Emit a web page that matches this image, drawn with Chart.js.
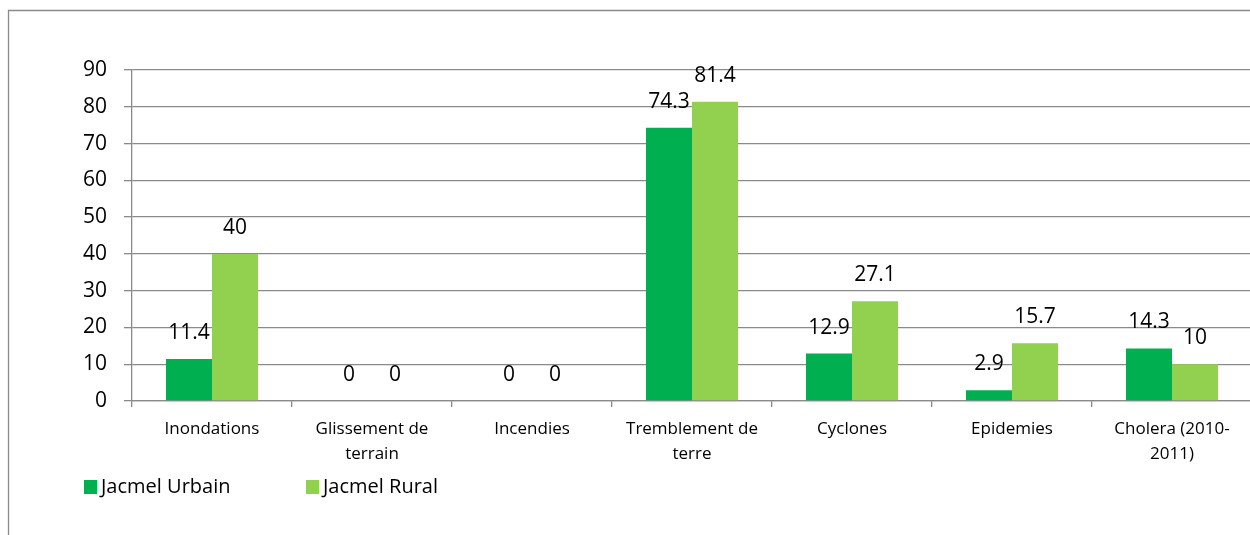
<!DOCTYPE html>
<html>
<head>
<meta charset="utf-8">
<title>Jacmel Urbain / Jacmel Rural</title>
<script src="https://cdn.jsdelivr.net/npm/chart.js@4/dist/chart.umd.min.js"></script>
<style>
  html, body { margin: 0; padding: 0; background: #ffffff; overflow: hidden; }
  #wrap { position: absolute; left: 0; top: 0; width: 1254px; height: 535px; }
</style>
</head>
<body>
<div id="wrap"><canvas id="chart" width="1254" height="535"></canvas></div>
<script>
// Hazard categories (wrapped onto two lines where the label is long)
const categories = [
  ['Inondations'],
  ['Glissement de', 'terrain'],
  ['Incendies'],
  ['Tremblement de', 'terre'],
  ['Cyclones'],
  ['Epidemies'],
  ['Cholera (2010-', '2011)']
];

// Percentages per area
const urbainValues = [11.4, 0, 0, 74.3, 12.9, 2.9, 14.3];
const ruralValues  = [40, 0, 0, 81.4, 27.1, 15.7, 10];

const seriesNames = ['Jacmel Urbain', 'Jacmel Rural'];
const seriesColors = ['#00B050', '#92D050'];

// Value axis
const yMin = 0;
const yMax = 90;
const yStep = 10;

const FONT = '"Open Sans", "Liberation Sans", Arial, sans-serif';
const GRID = '#8a8a8a';

// Outer frame of the chart object
const framePlugin = {
  id: 'frame',
  beforeDraw(chart) {
    const ctx = chart.ctx;
    ctx.save();
    ctx.fillStyle = '#ffffff';
    ctx.fillRect(0, 0, chart.width, chart.height);
    ctx.strokeStyle = GRID;
    ctx.lineWidth = 1.3;
    ctx.beginPath();
    ctx.moveTo(8.5, chart.height + 5);
    ctx.lineTo(8.5, 10.5);
    ctx.lineTo(chart.width + 5, 10.5);
    ctx.stroke();
    ctx.restore();
  }
};

// Value labels above each bar
const valueLabelPlugin = {
  id: 'valueLabels',
  afterDatasetsDraw(chart) {
    const ctx = chart.ctx;
    ctx.save();
    ctx.font = '21px ' + FONT;
    ctx.fillStyle = '#000000';
    ctx.textAlign = 'center';
    ctx.textBaseline = 'middle';
    chart.data.datasets.forEach((ds, i) => {
      const meta = chart.getDatasetMeta(i);
      meta.data.forEach((bar, j) => {
        ctx.fillText(String(ds.data[j]), bar.x, bar.y - 26);
      });
    });
    ctx.restore();
  }
};

// Legend row under the category axis
const legendPlugin = {
  id: 'bottomLegend',
  afterDraw(chart) {
    const ctx = chart.ctx;
    const starts = [84, 306];
    const cy = 487;
    ctx.save();
    ctx.font = '20px ' + FONT;
    ctx.textAlign = 'left';
    ctx.textBaseline = 'middle';
    chart.data.datasets.forEach((ds, i) => {
      const x = starts[i];
      ctx.fillStyle = ds.backgroundColor;
      ctx.fillRect(x, cy - 7, 13, 14);
      ctx.fillStyle = '#000000';
      ctx.fillText(ds.label, x + 17, cy);
    });
    ctx.restore();
  }
};

new Chart(document.getElementById('chart'), {
  type: 'bar',
  data: {
    labels: categories,
    datasets: [
      { label: seriesNames[0], data: urbainValues, backgroundColor: seriesColors[0], borderWidth: 0 },
      { label: seriesNames[1], data: ruralValues, backgroundColor: seriesColors[1], borderWidth: 0 }
    ]
  },
  options: {
    responsive: false,
    devicePixelRatio: 1,
    animation: false,
    events: [],
    layout: { padding: { left: 0, right: 2, top: 70, bottom: 0 } },
    datasets: { bar: { categoryPercentage: 0.575, barPercentage: 1.0 } },
    plugins: {
      legend: { display: false },
      tooltip: { enabled: false },
      title: { display: false }
    },
    scales: {
      x: {
        offset: true,
        grid: {
          display: true,
          offset: true,
          drawOnChartArea: false,
          drawTicks: true,
          tickLength: 6,
          color: GRID,
          lineWidth: 1.3
        },
        border: { display: true, color: GRID, width: 1.3 },
        ticks: {
          color: '#000000',
          font: { family: FONT, size: 17, lineHeight: 1.47 },
          padding: 10,
          maxRotation: 0,
          minRotation: 0,
          autoSkip: false
        },
        afterFit(scale) { scale.height = 134; }
      },
      y: {
        min: yMin,
        max: yMax,
        grid: {
          color: GRID,
          lineWidth: 1.3,
          drawTicks: true,
          tickLength: 8
        },
        border: { display: true, color: GRID, width: 1.3 },
        ticks: {
          stepSize: yStep,
          color: '#000000',
          font: { family: FONT, size: 21 },
          padding: 17
        },
        afterFit(scale) { scale.width = 132; }
      }
    }
  },
  plugins: [framePlugin, valueLabelPlugin, legendPlugin]
});
</script>
</body>
</html>
